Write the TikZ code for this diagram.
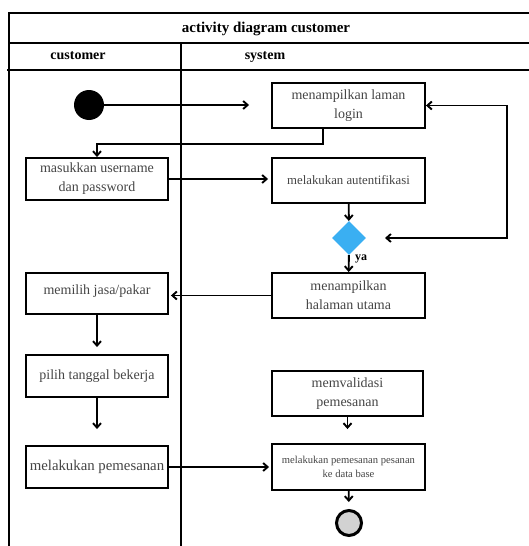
\documentclass[tikz,border=0pt]{standalone}
\usepackage{fontspec}
\setmainfont{Liberation Serif}
\usetikzlibrary{arrows.meta,shapes.geometric}
\definecolor{decblue}{HTML}{3AAFF2}
\definecolor{boxtext}{HTML}{454545}

\begin{document}
\begin{tikzpicture}[x=1pt, y=-1pt, >={Straight Barb[length=4.5pt,width=8pt]},
    lane/.style={line width=1.9pt},
    actbox/.style={draw, line width=1.9pt, fill=white, align=center, text=boxtext,
      font=\fontsize{14}{19}\selectfont, inner sep=2pt},
    rbox/.style={actbox, minimum width=153pt, minimum height=45pt},
    lbox/.style={actbox, minimum width=142pt, minimum height=42pt},
    flow/.style={->, line width=1.9pt},
    head/.style={font=\fontsize{14}{17}\selectfont\bfseries}]
    \useasboundingbox (0,0) rectangle (529,546);

    % Swimlane frame
    \draw[lane] (9,546) -- (9,13) -- (529,13);
    \draw[lane] (9,43) -- (529,43);
    \draw[lane] (7,70) -- (529,70);
    \draw[lane] (181,43) -- (181,546);
    \node[head, font=\fontsize{15}{18}\selectfont\bfseries] (title) at (266,29) {activity diagram customer};
    \node[head] (cust) at (78,56) {customer};
    \node[head] (sys) at (265,57) {system};

    % Start and end
    \node[circle, fill=black, minimum size=30pt, inner sep=0pt] (start) at (89,105) {};
    \node[circle, draw, line width=3pt, fill=gray!35, minimum size=25pt, inner sep=0pt] (stop) at (349,523) {};

    % System lane
    \node[rbox] (login) at (348.5,105.5) {menampilkan laman\\login};
    \node[rbox, font=\fontsize{12.8}{16}\selectfont] (auth) at (348.5,180.5) {melakukan autentifikasi};
    \node[diamond, fill=decblue, minimum size=34pt, inner sep=0pt] (dec) at (349,238) {};
    \node[rbox] (utama) at (348.5,295.5) {menampilkan\\halaman utama};
    \node[rbox, minimum width=151pt] (valid) at (347.5,393.5) {memvalidasi\\pemesanan};
    \node[rbox, minimum height=46pt, font=\fontsize{10.6}{14}\selectfont] (db) at (348.5,467) {melakukan pemesanan pesanan\\ke data base};

    % Customer lane
    \node[lbox] (masuk) at (97,179) {masukkan username\\dan password};
    \node[lbox, minimum height=41pt, text depth=8pt] (pilihjasa) at (97,293.5) {memilih jasa/pakar};
    \node[lbox] (tanggal) at (97,376) {pilih tanggal bekerja};
    \node[lbox, font=\fontsize{14.8}{19}\selectfont] (pesan) at (97,467) {melakukan pemesanan};

    % Flows
    \coordinate (back) at (385,238);
    \coordinate (corner) at (507,238);
    \draw[flow, shorten >=22pt] (start) -- (start -| login.west);
    \draw[flow] ([xshift=-25.5pt]login.south) |- ([yshift=13pt]masuk.north) -- (masuk.north);
    \draw[flow, shorten >=3pt] (masuk.east) -- (masuk.east -| auth.west);
    \draw[flow] (auth) -- (dec);
    \draw[flow] (dec) -- (utama) node[pos=0.1, right, font=\fontsize{12}{14}\selectfont\bfseries, xshift=2pt, yshift=-2pt] (ya) {ya};
    \draw[<->, line width=1.9pt] (back) -- (corner) |- (login.east);
    \draw[flow, shorten >=2pt] (utama.west) -- (utama.west -| pilihjasa.east);
    \draw[flow, shorten >=7pt] (pilihjasa) -- (tanggal);
    \draw[flow, shorten >=16pt] (tanggal) -- (pesan);
    \draw[flow, shorten >=2pt] (pesan.east) -- (db.west);
    \draw[flow, shorten >=14pt] (valid.south) -- (valid.south |- db.north);
    \draw[flow, shorten >=7pt] (db) -- (stop);
\end{tikzpicture}
\end{document}
